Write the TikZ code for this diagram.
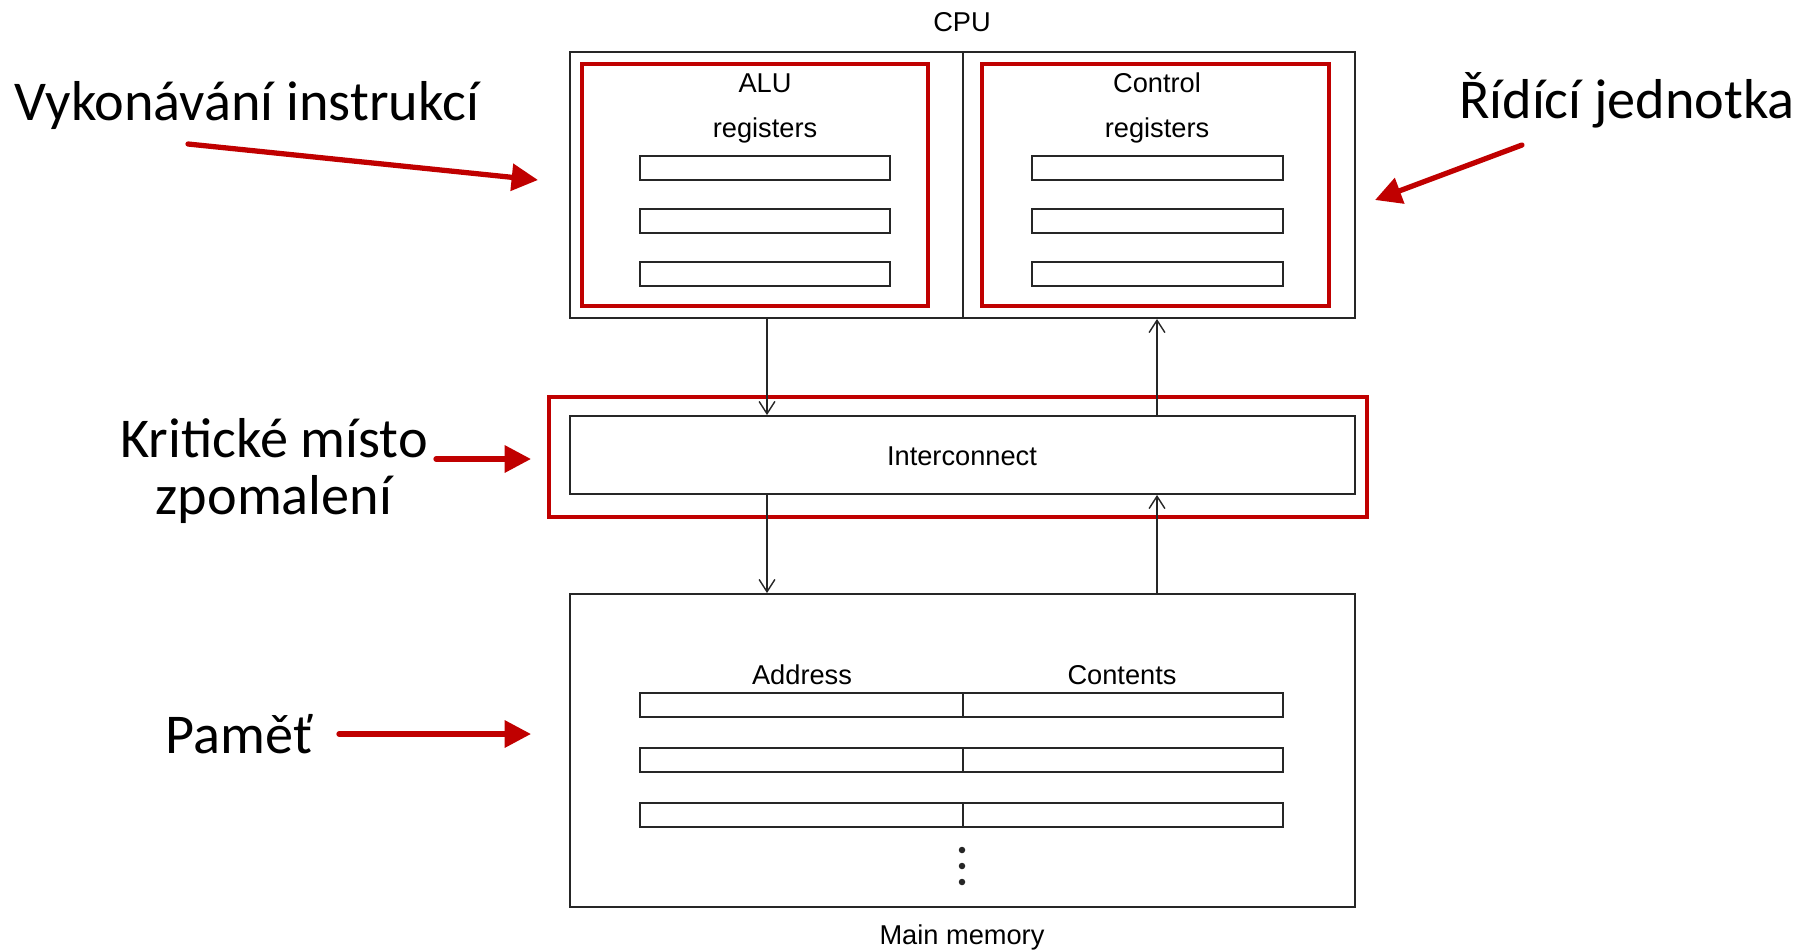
\documentclass[tikz,border=0pt]{standalone}
\usepackage{fontspec}
\setmainfont{Liberation Sans}
\newfontfamily\notefont{Carlito}
\usepackage{tkz-euclide}
\usetikzlibrary{fit}
\usetikzlibrary{arrows.meta}

\definecolor{markred}{RGB}{192,0,0}

\tikzset{
  box/.style={draw=black!85,line width=1.1pt,inner sep=0pt},
  regbox/.style={draw=black!85,line width=1.1pt,inner sep=0pt},
  markbox/.style={draw=markred,line width=2.6pt,inner sep=0pt},
  flow/.style={black!85,line width=0.8pt,-{Straight Barb[length=7pt,width=9pt]}},
  markarrow/.style={markred,line width=3pt,-{Triangle[length=15pt,width=15pt]}},
  lbl/.style={font=\fontsize{15.5}{18}\selectfont,anchor=base,inner sep=0pt},
  note/.style={font=\notefont\fontsize{32}{33}\selectfont,anchor=base,inner sep=0pt,align=center},
}

\begin{document}
\begin{tikzpicture}[x=0.02cm,y=-0.02cm]
  \useasboundingbox (0,0) rectangle (1816,951);

  % CPU
  \node[lbl] (cpulbl) at (962,31) {CPU};
  \node[box,fit={(570,52) (1355,318)}] (cpu) {};
  \coordinate (mid) at (963,0);
  \draw[box] (cpu.north -| mid) -- (cpu.south -| mid);

  \node[markbox,fit={(582,64) (928,306)}] (alu) {};
  \node[markbox,fit={(982,64) (1329,306)}] (ctl) {};
  \node[lbl] (alulbl) at (765,92) {ALU};
  \node[lbl] (aluregs) at (765,137) {registers};
  \node[lbl] (ctllbl) at (1157,92) {Control};
  \node[lbl] (ctlregs) at (1157,137) {registers};
  \foreach \i/\y in {1/168,2/221,3/274} {
    \node[regbox,fit={(640,\y-12) (890,\y+12)}] (alureg\i) {};
    \node[regbox,fit={(1032,\y-12) (1283,\y+12)}] (ctlreg\i) {};
  }

  % interconnect
  \node[box,fit={(570,416) (1355,494)}] (ic) {};
  \node[lbl] (iclbl) at (962,465) {Interconnect};
  \node[markbox,fit={(549,397) (1367,517)}] (icmark) {};

  % main memory
  \node[box,fit={(570,594) (1355,907)}] (mem) {};
  \node[lbl] (addrlbl) at (802,684) {Address};
  \node[lbl] (contlbl) at (1122,684) {Contents};
  \foreach \i/\y in {1/705,2/760,3/815} {
    \node[regbox,fit={(640,\y-12) (963,\y+12)}] (addr\i) {};
    \node[regbox,fit={(963,\y-12) (1283,\y+12)}] (cont\i) {};
  }
  \foreach \y in {850,866,882}
    \fill[black!85] (962,\y) circle (0.065cm);
  \node[lbl] (memlbl) at (962,944) {Main memory};

  % data paths
  \coordinate (dn) at (767,0);
  \coordinate (up) at (1157,0);
  \draw[flow] (cpu.south -| dn) -- (ic.north -| dn);
  \draw[flow] (ic.north -| up) -- (cpu.south -| up);
  \draw[flow] (ic.south -| dn) -- (mem.north -| dn);
  \draw[flow] (mem.north -| up) -- (ic.south -| up);

  % notes
  \node[note] (exec) at (247,120) {Vykonávání instrukcí};
  \node[note] (ctrl) at (1627,118) {Řídící jednotka};
  \node[note,anchor=center] (slow) at (274,471) {Kritické místo\\zpomalení};
  \node[note] (memnote) at (239,753) {Paměť};

  \tkzDefPoint(188,144){E1}
  \tkzDefPoint(538,180){E2}
  \tkzDefPoint(1522,145){C1}
  \tkzDefPoint(1375,200){C2}
  \tkzDefPoint(436,459){S1}
  \tkzDefPoint(531,459){S2}
  \tkzDefPoint(339,734){M1}
  \tkzDefPoint(531,734){M2}
  \tkzDrawSegment[markarrow](E1,E2)
  \tkzDrawSegment[markarrow](C1,C2)
  \tkzDrawSegment[markarrow](S1,S2)
  \tkzDrawSegment[markarrow](M1,M2)
\end{tikzpicture}
\end{document}
